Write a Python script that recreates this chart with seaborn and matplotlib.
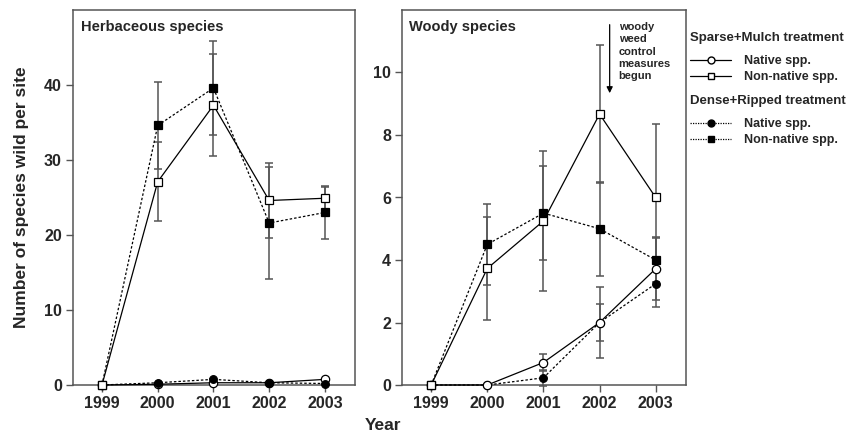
import numpy as np
import pandas as pd
import matplotlib
matplotlib.use("Agg")
import matplotlib.pyplot as plt
import seaborn as sns
from matplotlib.lines import Line2D

sns.set_theme(style="white")
plt.rcParams['font.family'] = ['Liberation Sans', 'DejaVu Sans']

years = [1999, 2000, 2001, 2002, 2003]

# Herbaceous species
herb_sparse_native = [0.0, 0.1, 0.3, 0.3, 0.75]
herb_sparse_native_err = [0, 0, 0, 0, 0]
herb_sparse_nonnative = [0.0, 27.1, 37.3, 24.6, 24.9]
herb_sparse_nonnative_err = [0, 5.3, 6.8, 5.0, 1.5]
herb_dense_native = [0.0, 0.3, 0.75, 0.3, 0.2]
herb_dense_native_err = [0, 0, 0, 0, 0]
herb_dense_nonnative = [0.0, 34.6, 39.6, 21.6, 23.0]
herb_dense_nonnative_err = [0, 5.8, 6.3, 7.5, 3.5]

# Woody species
wood_sparse_native = [0.0, 0.0, 0.72, 2.0, 3.72]
wood_sparse_native_err = [0, 0, 0.27, 1.15, 1.0]
wood_sparse_nonnative = [0.0, 3.73, 5.25, 8.67, 6.0]
wood_sparse_nonnative_err = [0, 1.65, 2.25, 2.2, 2.35]
wood_dense_native = [0.0, 0.0, 0.23, 2.0, 3.24]
wood_dense_native_err = [0, 0, 0.25, 0.6, 0.75]
wood_dense_nonnative = [0.0, 4.5, 5.5, 5.0, 4.0]
wood_dense_nonnative_err = [0, 1.3, 1.5, 1.5, 0.7]

herb_ticks = [0, 10, 20, 30, 40]
wood_ticks = [0, 2, 4, 6, 8, 10]

W, H = 855, 436
fig = plt.figure(figsize=(W / 100, H / 100), dpi=100)
ax1 = fig.add_axes([73 / W, 51 / H, 282 / W, 375 / H])
ax2 = fig.add_axes([402 / W, 51 / H, 284 / W, 375 / H])

styles = {
    "sparse_native": dict(marker="o", mfc="white", ls="-", ms=6),
    "sparse_nonnative": dict(marker="s", mfc="white", ls="-", ms=6),
    "dense_native": dict(marker="o", mfc="black", ls=(0, (2, 1.6)), ms=5.5),
    "dense_nonnative": dict(marker="s", mfc="black", ls=(0, (2, 1.6)), ms=6),
}

ecol = "#555555"


def draw(ax, series):
    for key, vals, errs in series:
        st = styles[key]
        df = pd.DataFrame({"year": years, "val": vals, "err": errs})
        ax.errorbar(df["year"], df["val"], yerr=df["err"], fmt="none",
                    ecolor=ecol, elinewidth=1.1, capsize=2.6, capthick=1.1,
                    zorder=2, clip_on=False)
        sns.lineplot(data=df, x="year", y="val", ax=ax, color="black",
                     linewidth=0.9, linestyle=st["ls"], marker=st["marker"],
                     markersize=st["ms"], markerfacecolor=st["mfc"],
                     markeredgecolor="black", markeredgewidth=0.9,
                     zorder=3, clip_on=False)


draw(ax1, [
    ("sparse_native", herb_sparse_native, herb_sparse_native_err),
    ("dense_native", herb_dense_native, herb_dense_native_err),
    ("dense_nonnative", herb_dense_nonnative, herb_dense_nonnative_err),
    ("sparse_nonnative", herb_sparse_nonnative, herb_sparse_nonnative_err),
])
draw(ax2, [
    ("dense_native", wood_dense_native, wood_dense_native_err),
    ("sparse_native", wood_sparse_native, wood_sparse_native_err),
    ("dense_nonnative", wood_dense_nonnative, wood_dense_nonnative_err),
    ("sparse_nonnative", wood_sparse_nonnative, wood_sparse_nonnative_err),
])

for ax, ylim, ticks in [(ax1, (0, 50), herb_ticks), (ax2, (0, 12), wood_ticks)]:
    ax.set_xlim(1998.48, 2003.54)
    ax.set_ylim(*ylim)
    ax.set_xticks(years)
    ax.set_xticklabels([str(y) for y in years])
    ax.set_yticks(ticks)
    ax.set_yticklabels([str(t) for t in ticks])
    ax.set_xlabel("")
    ax.set_ylabel("")
    for s in ax.spines.values():
        s.set_visible(True)
        s.set_color("#555555")
        s.set_linewidth(1.1)
    ax.tick_params(axis="both", direction="out", length=5, width=1.0,
                   color="#555555", labelsize=11.5, pad=3, bottom=True, left=True)
    for lab in ax.get_xticklabels() + ax.get_yticklabels():
        lab.set_fontweight("bold")
    ax.grid(False)

ax1.set_ylabel("Number of species wild per site", fontsize=12.5,
               fontweight="bold", labelpad=11)
fig.text(383 / W, 1 - 425 / H, "Year", fontsize=12.5, fontweight="bold",
         ha="center", va="center")

ax1.text(0.03, 0.955, "Herbaceous species", transform=ax1.transAxes,
         fontsize=10.5, fontweight="bold", ha="left", va="center")
ax2.text(0.025, 0.955, "Woody species", transform=ax2.transAxes,
         fontsize=10.5, fontweight="bold", ha="left", va="center")

# annotation arrow
ax2.annotate("", xy=(2002.18, 9.25), xytext=(2002.18, 11.62),
             arrowprops=dict(arrowstyle="-|>", color="black", lw=0.9,
                             mutation_scale=9))
ax2.text(2002.34, 11.62, "woody\nweed\ncontrol\nmeasures\nbegun",
         fontsize=8, fontweight="bold", ha="left", va="top",
         linespacing=1.3)

# legends
h_sparse = [
    Line2D([], [], color="black", lw=0.9, ls="-", marker="o", ms=5,
           mfc="white", mec="black"),
    Line2D([], [], color="black", lw=0.9, ls="-", marker="s", ms=5,
           mfc="white", mec="black"),
]
h_dense = [
    Line2D([], [], color="black", lw=0.9, ls=(0, (1, 1)), marker="o", ms=5,
           mfc="black", mec="black"),
    Line2D([], [], color="black", lw=0.9, ls=(0, (1, 1)), marker="s", ms=5,
           mfc="black", mec="black"),
]
labels = ["Native spp.", "Non-native spp."]
leg_kw = dict(frameon=False, handlelength=3.3, handletextpad=1.0,
              labelspacing=0.35, borderaxespad=0, borderpad=0,
              alignment="left", prop=dict(weight="bold", size=9),
              title_fontproperties=dict(weight="bold", size=9.5),
              loc="upper left")
leg1 = fig.legend(h_sparse, labels, title="Sparse+Mulch treatment",
                  bbox_to_anchor=(690 / W, 1 - 32 / H), **leg_kw)
leg2 = fig.legend(h_dense, labels, title="Dense+Ripped treatment",
                  bbox_to_anchor=(690 / W, 1 - 95 / H), **leg_kw)
for lg in (leg1, leg2):
    lg._legend_box.sep = 8

fig.savefig("out.png", dpi=100)
